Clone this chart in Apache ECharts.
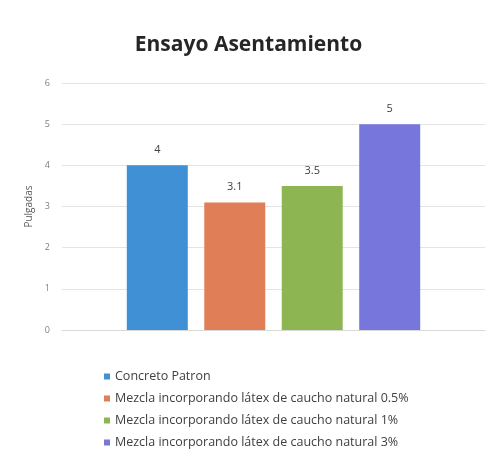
<!DOCTYPE html>
<html>
<head>
<meta charset="utf-8">
<script src="https://cdn.jsdelivr.net/npm/echarts@6/dist/echarts.min.js"></script>
<style>
  html, body { margin: 0; padding: 0; background: #fff; }
  #chart { width: 497px; height: 465px; }
</style>
</head>
<body>
<div id="chart"></div>
<script>
// datos del ensayo
const seriesNames = [
  'Concreto Patron',
  'Mezcla incorporando látex de caucho natural 0.5%',
  'Mezcla incorporando látex de caucho natural 1%',
  'Mezcla incorporando látex de caucho natural 3%'
];
const values = [4, 3.1, 3.5, 5];
const colors = ['#3f90d4', '#e07e58', '#8db652', '#7776dc'];
const category = ['Asentamiento'];

const chart = echarts.init(document.getElementById('chart'));

const series = seriesNames.map((name, i) => ({
  name: name,
  type: 'bar',
  data: [values[i]],
  barWidth: 61,
  barGap: '27%',
  itemStyle: { color: colors[i] },
  label: {
    show: true,
    position: 'top',
    distance: 10,
    color: '#404040',
    fontSize: 11,
    fontFamily: 'Open Sans'
  }
}));

chart.setOption({
  backgroundColor: '#fff',
  animation: false,
  color: colors,
  title: {
    text: 'Ensayo Asentamiento',
    left: 'center',
    top: 30,
    textStyle: { fontFamily: 'Open Sans', fontWeight: 'bold', fontSize: 21, color: '#262626' }
  },
  legend: {
    orient: 'vertical',
    left: 99,
    top: 365,
    itemWidth: 6,
    itemHeight: 6,
    itemGap: 9,
    icon: 'rect',
    textStyle: { fontFamily: 'Open Sans', fontSize: 12.5, color: '#404040' },
    data: seriesNames
  },
  grid: { left: 62, right: 12, top: 83, bottom: 135 },
  xAxis: {
    type: 'category',
    data: category,
    axisLine: { show: true, lineStyle: { color: '#d9d9d9' } },
    axisTick: { show: false },
    axisLabel: { show: false }
  },
  yAxis: {
    type: 'value',
    min: 0,
    max: 6,
    interval: 1,
    name: 'Pulgadas',
    nameLocation: 'middle',
    nameGap: 18,
    nameTextStyle: { fontFamily: 'Open Sans', fontSize: 10, color: '#595959' },
    axisLine: { show: false },
    axisTick: { show: false },
    axisLabel: { color: '#7f7f7f', fontSize: 9, fontFamily: 'Open Sans', margin: 12 },
    splitLine: { lineStyle: { color: '#e4e4e4' } }
  },
  series: series
});
</script>
</body>
</html>
